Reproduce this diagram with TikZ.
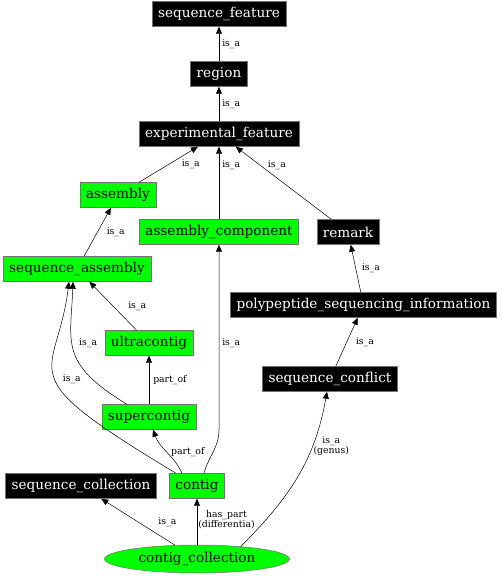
\documentclass[tikz,border=0pt]{standalone}
\usepackage{fontspec}
\setmainfont{DejaVu Serif}
\usepackage{tikz}
\usepackage{xcolor}
\usetikzlibrary{
    arrows.meta,
    shapes.geometric,
    calc,
    positioning
}
\tikzset{soblk/.style={inner xsep=6pt, inner ysep=0pt, minimum height=25pt, rectangle, draw=black!55, fill=black, text=white, font=\fontsize{13.6}{16}\selectfont}}
\tikzset{sogrn/.style={inner xsep=6pt, inner ysep=0pt, minimum height=25pt, rectangle, draw=black!55, fill=green, text=black, font=\fontsize{13.6}{16}\selectfont}}
\tikzset{soell/.style={inner sep=0pt, ellipse, minimum width=185pt, minimum height=28pt, draw=black!55, fill=green, font=\fontsize{13.6}{16}\selectfont}}
\tikzset{solbl/.style={inner sep=1pt, font=\fontsize{9.3}{10}\selectfont, align=center}}

\begin{document}
\begin{tikzpicture}[x=1pt, y=1pt, >={Triangle[length=7pt, width=6pt]}, line width=0.5pt]
                        \useasboundingbox (0, 0) rectangle (501, 576);

                        \node[soblk] (sf) at (219, 562) {sequence\_feature};
                        \node[soblk] (reg) at (219, 502) {region};
                        \node[soblk] (ef) at (219, 442) {experimental\_feature};
                        \node[sogrn] (asm) at (118, 381) {assembly};
                        \node[sogrn] (ac) at (219, 344) {assembly\_component};
                        \node[soblk] (rem) at (348, 344) {remark};
                        \node[sogrn] (sa) at (77, 307) {sequence\_assembly};
                        \node[soblk] (psi) at (363.5, 271) {polypeptide\_sequencing\_information};
                        \node[sogrn] (uc) at (149, 233) {ultracontig};
                        \node[soblk] (sc) at (330, 197) {sequence\_conflict};
                        \node[sogrn] (spc) at (149, 159) {supercontig};
                        \node[soblk] (scol) at (81, 90) {sequence\_collection};
                        \node[sogrn] (ctg) at (197, 90) {contig};
                        \node[soell] (cc) at (197, 17) {contig\_collection};

                        \draw
                        (reg) edge[->] node[solbl, right=2pt] {is\_a} (sf)
                        (ef) edge[->] node[solbl, right=2pt] {is\_a} (reg)
                        (asm) edge[->] node[solbl, right=12pt] {is\_a} (ef)
                        (ac) edge[->] node[solbl, right=2pt, pos=0.75] {is\_a} (ef)
                        (rem) edge[->] node[solbl, right=7pt, pos=0.75] {is\_a} (ef)
                        (sa) edge[->] node[solbl, right=8pt] {is\_a} (asm)
                        (psi) edge[->] node[solbl, right=5pt] {is\_a} (rem)
                        (uc) edge[->] node[solbl, right=14pt] {is\_a} (sa)
                        (sc) edge[->] node[solbl, right=8pt] {is\_a} (psi)
                        (spc) edge[->] node[solbl, right=3pt] {part\_of} (uc)
                        (cc) edge[->] node[solbl, right=19pt] {is\_a} (scol)
                        (cc) edge[->] node[solbl, right=0pt, pos=0.54] {has\_part\\(differentia)} (ctg);

                        \draw
                        ([xshift=-22pt]spc.north) edge[->, out=149, in=-92, out distance=80pt, in distance=60pt] node[solbl, right=6pt, pos=0.56] {is\_a} ([xshift=-4pt]sa.south)
                        ([xshift=-21pt]ctg.north) edge[->, out=149, in=-97, out distance=200pt, in distance=100pt] node[solbl, right=7pt, pos=0.48] {is\_a} ([xshift=-8pt]sa.south)
                        ([xshift=-15pt]ctg.north) edge[->, out=115, in=-70] node[solbl, right=3pt, pos=0.5] {part\_of} ([xshift=4pt]spc.south)
                        (cc.16) edge[->, out=45, in=-100] node[solbl, right=0pt, pos=0.7] {is\_a\\(genus)} ([xshift=-3pt]sc.south);

                        \draw[->] ([xshift=7pt]ctg.north) to[out=75, in=-90] ([yshift=-185pt]ac.south) -- node[solbl, right=2pt, pos=0.47] {is\_a} (ac.south);
                    \end{tikzpicture}
\end{document}
